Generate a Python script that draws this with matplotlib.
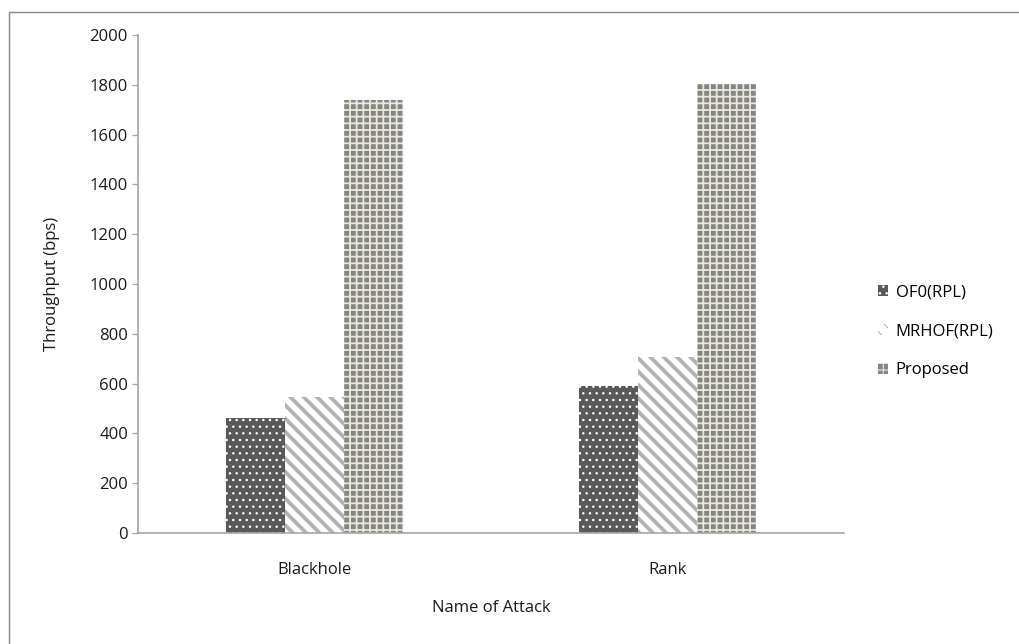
import matplotlib
matplotlib.use("Agg")
import matplotlib.pyplot as plt
from matplotlib.patches import Rectangle
import numpy as np

attacks = ["Blackhole", "Rank"]
series = ["OF0(RPL)", "MRHOF(RPL)", "Proposed"]
of0_vals = [460, 590]
mrhof_vals = [545, 705]
proposed_vals = [1740, 1805]
yticks = [0, 200, 400, 600, 800, 1000, 1200, 1400, 1600, 1800, 2000]

plt.rcParams["font.family"] = ["Open Sans", "DejaVu Sans"]

DPI = 80
W, H = 1019, 644
FS = 15
fig = plt.figure(figsize=(W / DPI, H / DPI), dpi=DPI)
fig.patch.set_facecolor("white")

# outer frame
fig.add_artist(Rectangle((9 / W, -0.05), 1.2, 1 - 12 / H + 0.05,
                         transform=fig.transFigure, fill=False,
                         edgecolor="#8c8c8c", linewidth=1.3))

ax = fig.add_axes([138 / W, 1 - 533 / H, (844 - 138) / W, (533 - 35) / H])

x = np.arange(len(attacks))
w = 1 / 6
styles = [
    dict(face="#595959", hatch_col="#ffffff", hatch="..", hlw=1.0),
    dict(face="#ffffff", hatch_col="#b3b3b3", hatch="\\\\", hlw=3.4),
    dict(face="#858585", hatch_col="#ebe8dc", hatch="++", hlw=1.6),
]
values = [of0_vals, mrhof_vals, proposed_vals]
for i, (name, vals, st) in enumerate(zip(series, values, styles)):
    with plt.rc_context({"hatch.linewidth": st["hlw"]}):
        ax.bar(x + (i - 1) * w, vals, width=w, color=st["face"],
               edgecolor=st["hatch_col"], hatch=st["hatch"],
               linewidth=0, label=name)

ax.set_xlim(-0.5, 1.5)
ax.set_ylim(0, 2000)
ax.set_yticks(yticks)
ax.set_xticks(x)
ax.set_xticklabels(attacks)
for s in ["top", "right"]:
    ax.spines[s].set_visible(False)
for s in ["left", "bottom"]:
    ax.spines[s].set_color("#a6a6a6")
    ax.spines[s].set_linewidth(1.5)
ax.tick_params(axis="y", length=5, width=1.2, color="#a6a6a6",
               labelsize=FS, pad=4, labelcolor="#1a1a1a")
ax.tick_params(axis="x", length=0, labelsize=FS, pad=26, labelcolor="#1a1a1a")
ax.set_xlabel("Name of Attack", fontsize=FS, labelpad=20, color="#1a1a1a")
ax.set_ylabel("Throughput (bps)", fontsize=FS, labelpad=27, color="#1a1a1a")

ax.legend(loc="center left", bbox_to_anchor=(1.027, 0.405), frameon=False,
          fontsize=FS, handlelength=0.6, handleheight=0.6,
          handletextpad=0.45, labelspacing=1.38)

fig.savefig("out.png", dpi=DPI, facecolor="white")
